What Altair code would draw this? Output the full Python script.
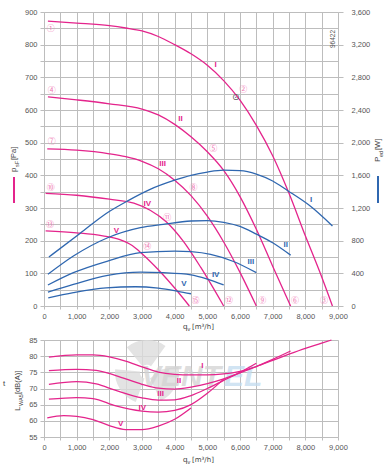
import altair as alt
import pandas as pd

# ---------------- data: static pressure p_sF [Pa] vs q_v [m3/h] ----------------
psf_I_q = [120, 1000, 2000, 2500, 3000, 3500, 4000, 4500, 5000, 5500, 6000, 6500, 7000, 7500, 8000, 8470, 8830]
psf_I_p = [872, 866, 858, 851, 842, 825, 800, 772, 737, 690, 630, 553, 460, 345, 215, 97, 0]
psf_II_q = [120, 1000, 2000, 3000, 3500, 4000, 4500, 5000, 5500, 6000, 6500, 7000, 7550]
psf_II_p = [640, 631, 619, 603, 585, 556, 518, 472, 415, 335, 235, 122, 0]
psf_III_q = [100, 1000, 2000, 2500, 3000, 3500, 4000, 4500, 5000, 5500, 6000, 6500]
psf_III_p = [481, 477, 466, 457, 443, 420, 385, 338, 275, 196, 103, 0]
psf_IV_q = [50, 1000, 2000, 2750, 3250, 3750, 4250, 4800, 5500]
psf_IV_p = [345, 339, 327, 315, 293, 257, 200, 118, 0]
psf_V_q = [50, 1000, 1800, 2300, 2700, 3000, 3500, 4000, 4450]
psf_V_p = [230, 224, 215, 204, 185, 160, 111, 55, 0]

# ---------------- data: power input P_ed [W] ----------------
ped_I_q = [150, 1100, 1950, 2550, 3250, 4000, 4500, 5000, 5500, 6000, 6500, 7000, 7450, 8150, 8830]
ped_I_w = [600, 888, 1145, 1285, 1428, 1540, 1600, 1640, 1663, 1657, 1615, 1530, 1415, 1224, 980]
ped_II_q = [120, 900, 1950, 2950, 3650, 4500, 5000, 5500, 6000, 6500, 7000, 7550]
ped_II_w = [388, 612, 836, 959, 1000, 1041, 1045, 1025, 975, 880, 775, 623]
ped_III_q = [120, 900, 1950, 2950, 4000, 4500, 5100, 5800, 6500]
ped_III_w = [257, 408, 551, 653, 673, 665, 632, 545, 408]
ped_IV_q = [120, 900, 1950, 2950, 3650, 4500, 5000, 5500]
ped_IV_w = [171, 265, 375, 415, 408, 382, 330, 258]
ped_V_q = [130, 900, 1900, 2800, 3500, 4100, 4500]
ped_V_w = [100, 163, 222, 236, 218, 180, 150]

# ---------------- data: sound power L_WA5 [dB(A)] ----------------
lwa_I_q = [150, 1000, 1500, 2000, 2500, 3000, 3500, 4000, 4500, 5000, 5500, 6000, 6500, 7000, 7500, 8000, 8500, 8800]
lwa_I_db = [79.7, 80.4, 80.4, 79.8, 78.5, 76.7, 75.1, 74.4, 74.2, 74.2, 74.5, 75.3, 76.8, 78.7, 80.6, 82.4, 84.0, 85.0]
lwa_II_q = [150, 1000, 1600, 2200, 3000, 3500, 4000, 4500, 5000, 5500, 6000, 6500, 7000, 7550]
lwa_II_db = [75.5, 75.9, 75.6, 74.0, 71.3, 70.1, 69.8, 70.4, 71.5, 73.0, 74.8, 76.8, 79.0, 81.6]
lwa_III_q = [150, 1000, 1600, 2200, 3000, 3500, 4000, 4500, 5000, 5500, 6000, 6500]
lwa_III_db = [71.3, 72.1, 71.4, 69.4, 67.1, 66.4, 66.5, 67.8, 70.0, 72.5, 75.0, 77.8]
lwa_IV_q = [150, 1000, 1500, 2200, 3000, 3500, 4000, 4500, 5000, 5500]
lwa_IV_db = [66.7, 67.2, 66.9, 64.6, 63.0, 62.7, 63.2, 65.0, 68.5, 72.9]
lwa_V_q = [100, 600, 1000, 1500, 2000, 2500, 3000, 3500, 4000, 4500]
lwa_V_db = [60.9, 61.6, 61.4, 60.4, 58.5, 57.3, 57.3, 58.4, 60.5, 64.0]

# ---------------- labels ----------------
roman = ["I", "II", "III", "IV", "V"]
psf_lab_q = [5256, 4180, 3633, 3160, 2220]
psf_lab_p = [738, 573, 435, 311, 229]
ped_lab_q = [8180, 7400, 6330, 5255, 4280]
ped_lab_w = [1303, 745, 540, 383, 264]
lwa_lab_q = [4850, 4130, 3570, 3010, 2350]
lwa_lab_db = [77.0, 72.4, 68.4, 64.1, 59.0]
pt_text = ["①", "②", "③", "④", "⑤", "⑥", "⑦", "⑧", "⑨", "⑩", "⑪", "⑫", "⑬", "⑭", "⑮"]
pt_q = [204, 6100, 8570, 235, 5184, 7683, 235, 4573, 6680, 204, 3770, 5660, 184, 3160, 4640]
pt_p = [849, 662, 15, 657, 481, 15, 501, 360, 15, 362, 270, 15, 247, 182, 15]
op_q = [5867]
op_p = [640]

x_ticks = list(range(0, 9001, 500))
psf_ticks = list(range(0, 901, 50))
ped_ticks = list(range(0, 3601, 400))
lwa_ticks = list(range(55, 86, 5))

MAG = "#e4248c"
MAG_L = "#ef7ab5"
BLUE = "#2f67b0"
GRID = "#bdbdbd"
LAB = "#555555"
FONT = "Liberation Sans"


def frame(names, qs, vs):
    rows = []
    for n, q, v in zip(names, qs, vs):
        for i, (a, b) in enumerate(zip(q, v)):
            rows.append({"curve": n, "q": a, "v": b, "i": i})
    return pd.DataFrame(rows)


pres = frame(roman, [psf_I_q, psf_II_q, psf_III_q, psf_IV_q, psf_V_q],
             [psf_I_p, psf_II_p, psf_III_p, psf_IV_p, psf_V_p])
powr = frame(roman, [ped_I_q, ped_II_q, ped_III_q, ped_IV_q, ped_V_q],
             [ped_I_w, ped_II_w, ped_III_w, ped_IV_w, ped_V_w])
snd = frame(roman, [lwa_I_q, lwa_II_q, lwa_III_q, lwa_IV_q, lwa_V_q],
            [lwa_I_db, lwa_II_db, lwa_III_db, lwa_IV_db, lwa_V_db])

psf_lab = pd.DataFrame({"t": roman, "q": psf_lab_q, "v": psf_lab_p})
ped_lab = pd.DataFrame({"t": roman, "q": ped_lab_q, "v": ped_lab_w})
lwa_lab = pd.DataFrame({"t": roman, "q": lwa_lab_q, "v": lwa_lab_db})
pts = pd.DataFrame({"t": pt_text, "q": pt_q, "v": pt_p})
opp = pd.DataFrame({"t": ["⊙"], "q": op_q, "v": op_p})

W = 294
H_TOP = 294
H_BOT = 97

x_axis = alt.Axis(values=x_ticks, labelExpr="datum.value % 1000 == 0 ? format(datum.value, ',') : ''",
                  grid=True, gridColor=GRID, gridWidth=1, domain=False, tickSize=3, tickColor=GRID,
                  labelFontSize=7.5, labelColor=LAB, labelFont=FONT, labelPadding=3, title=None,
                  labelFlush=False)
xs = alt.Scale(domain=[0, 9000], nice=False, zero=True)
X = alt.X("q:Q", scale=xs, axis=x_axis)

psf_scale = alt.Scale(domain=[0, 900], nice=False)
ped_scale = alt.Scale(domain=[0, 3600], nice=False)
lwa_scale = alt.Scale(domain=[55, 85], nice=False, zero=False)

psf_axis = alt.Axis(values=psf_ticks, labelExpr="datum.value % 100 == 0 ? format(datum.value, ',') : ''",
                    grid=True, gridColor=GRID, domain=False, tickSize=4, tickColor=GRID,
                    labelFontSize=7.5, labelColor=LAB, labelFont=FONT, labelPadding=3, title=None,
                    labelFlush=False)
ped_axis = alt.Axis(values=ped_ticks, labelExpr="format(datum.value, ',.0f')", grid=False, domain=False,
                    tickSize=5, tickColor=GRID,
                    labelFontSize=7.5, labelColor=LAB, labelFont=FONT, labelPadding=8, title=None,
                    orient="right", labelFlush=False)
lwa_axis = alt.Axis(values=lwa_ticks, grid=True, gridColor=GRID, domain=False, tickSize=4, tickColor=GRID,
                    labelFontSize=7.5, labelColor=LAB, labelFont=FONT, labelPadding=3, title=None,
                    labelFlush=False)

YP = alt.Y("v:Q", scale=psf_scale, axis=psf_axis)
YW = alt.Y("v:Q", scale=ped_scale, axis=ped_axis)
YL = alt.Y("v:Q", scale=lwa_scale, axis=lwa_axis)

# ---------------- top panel ----------------
p_lines = alt.Chart(pres).mark_line(color=MAG, strokeWidth=1.3, interpolate="monotone").encode(
    x=X, y=YP, detail="curve:N", order="i:Q")
p_labs = alt.Chart(psf_lab).mark_text(color=MAG, fontSize=8, font=FONT, fontWeight="bold").encode(
    x=X, y=YP, text="t:N")
p_pts = alt.Chart(pts).mark_text(color=MAG_L, fontSize=8, font="Noto Sans CJK JP").encode(
    x=X, y=YP, text="t:N")
p_op = alt.Chart(opp).mark_text(color="#555555", fontSize=9, font="DejaVu Sans").encode(
    x=X, y=YP, text="t:N")
press_layer = alt.layer(p_lines, p_labs, p_pts, p_op)

w_lines = alt.Chart(powr).mark_line(color=BLUE, strokeWidth=1.3, interpolate="monotone").encode(
    x=X, y=YW, detail="curve:N", order="i:Q")
w_labs = alt.Chart(ped_lab).mark_text(color=BLUE, fontSize=8, font=FONT, fontWeight="bold").encode(
    x=X, y=YW, text="t:N")
power_layer = alt.layer(w_lines, w_labs)

one = pd.DataFrame({"a": [0]})
def txt(s, x, y, size=7.5, color="#333333", angle=0, align="left", font=FONT, weight="normal",
        style="normal", opacity=1.0, baseline="middle"):
    return alt.Chart(one).mark_text(text=s, fontSize=size, color=color, angle=angle, align=align,
                                    baseline=baseline, font=font, fontWeight=weight, fontStyle=style,
                                    opacity=opacity).encode(x=alt.value(x), y=alt.value(y))

def seg(x, y1, y2, color):
    return alt.Chart(one).mark_rule(color=color, strokeWidth=2).encode(
        x=alt.value(x), y=alt.value(y1), y2=alt.value(y2))

def blade(cx, cy, t1, t2, r):
    return alt.Chart(one).mark_arc(color="#dcdcdc", opacity=0.8, innerRadius=7, outerRadius=r,
                                   theta=t1, theta2=t2).encode(x=alt.value(cx), y=alt.value(cy))

top_deco = alt.layer(
    txt("p", -30, 160, size=8, angle=270, color="#444"),
    txt("sF", -27.5, 155, size=5.5, angle=270, color="#444"),
    txt("[Pa]", -30, 148, size=7.5, angle=270, color="#444"),
    seg(-30, 165, 191, MAG),
    txt("P", 334, 150, size=8, angle=270, color="#444"),
    txt("ed", 336.5, 145, size=5.5, angle=270, color="#444"),
    txt("[W]", 334, 138, size=7.5, angle=270, color="#444"),
    seg(334, 164, 191, BLUE),
    txt("96422", 289, 27, size=6.5, angle=270, align="center", color="#555"),
    txt("q", 139, 315, size=8, color="#444"),
    txt("v", 143.5, 317, size=5.5, color="#444"),
    txt("[m³/h]", 148, 315, size=7, color="#444", font="DejaVu Sans"),
)

top = alt.layer(press_layer, power_layer, top_deco).resolve_scale(y="independent").properties(
    width=W, height=H_TOP)

# ---------------- bottom panel ----------------
wm = alt.layer(
    blade(103, 32, 5.6, 6.9, 32),
    blade(103, 32, 1.4, 2.7, 32),
    blade(103, 32, 3.5, 4.8, 32),
    txt("VENT", 97, 46, size=30, color="#d2d2d2", weight="bold", style="italic", baseline="alphabetic",
        font="Liberation Sans", opacity=0.75),
    txt("EL", 180, 46, size=30, color="#c2dbef", weight="bold", style="italic", baseline="alphabetic",
        font="Liberation Sans", opacity=0.75),
)
s_lines = alt.Chart(snd).mark_line(color=MAG, strokeWidth=1.3, interpolate="monotone").encode(
    x=X, y=YL, detail="curve:N", order="i:Q")
s_labs = alt.Chart(lwa_lab).mark_text(color=MAG, fontSize=8, font=FONT, fontWeight="bold").encode(
    x=X, y=YL, text="t:N")
bot_deco = alt.layer(
    txt("L", -26, 71, size=8, angle=270, color="#444"),
    txt("WA5", -23.5, 66, size=5.5, angle=270, color="#444"),
    txt("[dB(A)]", -26, 54, size=7.5, angle=270, color="#444"),
    txt("t", -41, 44, size=8, color="#444"),
    txt("q", 139, 120, size=8, color="#444"),
    txt("v", 143.5, 122, size=5.5, color="#444"),
    txt("[m³/h]", 148, 120, size=7, color="#444", font="DejaVu Sans"),
)
bottom = alt.layer(wm, s_lines, s_labs, bot_deco).properties(width=W, height=H_BOT)

chart = alt.vconcat(top, bottom, spacing=34, bounds="flush").properties(
    padding={"left": 2, "top": 7, "right": 0, "bottom": 0}
).configure_view(stroke=None).configure(background="white")

chart.save("out.html", embed_options={"renderer": "svg", "actions": False})
